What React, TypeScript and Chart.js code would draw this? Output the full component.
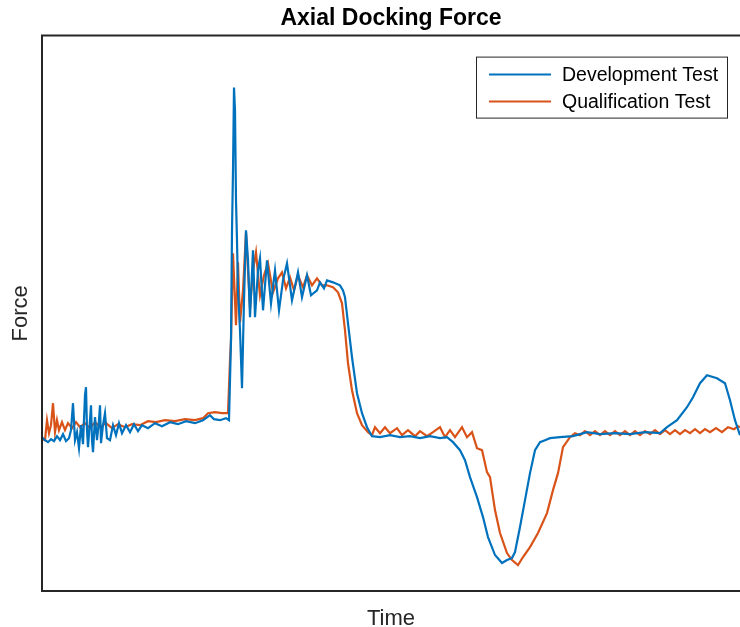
import { useEffect, useRef } from 'react';
import { Chart, registerables } from 'chart.js';
import type { Plugin } from 'chart.js';

Chart.register(...registerables);

// time in ms, force in N (arbitrary offsets, axes carry no ticks)
const devTime = [
  0, 3, 6, 9, 12, 15, 18, 21, 24, 27,
  29, 31, 33, 35, 37, 39, 41, 43, 44, 45,
  46, 48, 49, 50, 51, 53, 55, 57, 58, 59,
  61, 63, 65, 68, 71, 74, 77, 80, 84, 88,
  92, 96, 100, 106, 113, 120, 128, 136, 144, 153,
  161, 168, 172, 178, 184, 187, 189, 190, 191, 192,
  193, 194, 195, 196, 198, 200, 202, 204, 206, 208,
  211, 213, 216, 218, 221, 225, 229, 233, 237, 241,
  245, 250, 256, 260, 265, 269, 275, 278, 282, 285,
  291, 298, 301, 303, 306, 310, 315, 320, 325, 330,
  338, 348, 358, 368, 378, 388, 398, 405, 411, 418,
  423, 428, 435, 441, 446, 453, 460, 465, 470, 473,
  478, 483, 488, 493, 498, 503, 508, 518, 531, 545,
  558, 573, 588, 603, 618, 625, 635, 645, 651, 658,
  665, 675, 683, 688, 693, 698,
];
const devForce = [
  3, 0, -2, 1, -1, 4, 0, 6, -1, 2,
  10, 37, 0, 8, -8, 15, -4, 45, 53, 10,
  -7, 20, 35, 0, -12, 23, 0, 20, 35, -3,
  15, 27, 2, 0, 15, 5, 17, 7, 15, 8,
  16, 9, 15, 12, 17, 14, 18, 16, 19, 17,
  20, 25, 21, 20, 22, 20, 100, 210, 270, 353,
  330, 240, 200, 150, 110, 52, 140, 210, 180, 123,
  190, 123, 170, 182, 130, 180, 137, 170, 130, 160,
  177, 140, 168, 143, 165, 145, 150, 158, 152, 160,
  158, 155, 150, 143, 117, 83, 47, 27, 13, 4,
  3, 5, 3, 4, 2, 4, 2, 3, -2, -10,
  -20, -37, -57, -77, -97, -115, -123, -120, -118, -112,
  -87, -60, -33, -10, -2, 0, 2, 3, 4, 8,
  6, 7, 6, 8, 7, 13, 20, 33, 43, 57,
  65, 62, 57, 40, 20, 5,
];

const qualTime = [
  0, 3, 5, 7, 9, 11, 13, 15, 17, 20,
  23, 26, 30, 34, 38, 43, 48, 53, 58, 64,
  70, 76, 83, 90, 98, 106, 114, 123, 133, 143,
  153, 161, 166, 173, 180, 186, 188, 189, 191, 194,
  196, 198, 201, 204, 208, 211, 214, 218, 222, 226,
  231, 236, 240, 244, 248, 252, 256, 261, 265, 270,
  275, 280, 285, 291, 296, 300, 303, 306, 310, 315,
  320, 326, 330, 333, 338, 343, 348, 355, 360, 366,
  373, 378, 385, 391, 398, 403, 408, 413, 420, 425,
  430, 435, 440, 445, 448, 453, 458, 465, 470, 476,
  481, 488, 496, 505, 511, 516, 521, 528, 533, 538,
  543, 548, 553, 558, 563, 568, 573, 578, 583, 588,
  593, 598, 603, 608, 613, 618, 623, 628, 633, 638,
  643, 648, 653, 658, 663, 668, 674, 680, 686, 692,
  696, 698,
];
const qualForce = [
  1, 0, 20, 7, 15, 37, 8, 20, 10, 18,
  10, 17, 12, 18, 13, 17, 12, 18, 13, 17,
  12, 16, 13, 16, 15, 19, 18, 20, 19, 21,
  20, 22, 27, 28, 27, 27, 80, 100, 187, 115,
  178, 118, 150, 208, 132, 170, 188, 145, 165, 177,
  148, 162, 168, 152, 163, 150, 165, 153, 165, 155,
  162, 155, 155, 153, 148, 137, 110, 77, 50, 27,
  15, 8, 5, 13, 7, 13, 7, 12, 5, 10,
  4, 9, 4, 8, 13, 3, 10, 3, 13, 3,
  8, -8, -10, -32, -37, -70, -93, -113, -120, -125,
  -117, -107, -93, -73, -50, -33, -7, 3, 7, 5,
  9, 5, 9, 5, 9, 5, 9, 5, 9, 5,
  9, 5, 9, 6, 10, 6, 10, 6, 10, 6,
  10, 7, 11, 7, 11, 8, 12, 8, 13, 11,
  14, 13,
];

const seriesNames = ['Development Test', 'Qualification Test'];
const seriesColors = ['#0072BD', '#D95319'];

const FONT = "'Liberation Sans', Arial, Helvetica, sans-serif";
const INK = '#262626';

const axesBox: Plugin<'line'> = {
  id: 'axesBox',
  afterDatasetsDraw(chart) {
    const { ctx, chartArea: { left, top, right, bottom } } = chart;
    ctx.save();
    ctx.strokeStyle = INK;
    ctx.lineWidth = 2;
    ctx.beginPath();
    ctx.moveTo(right + 2, top);
    ctx.lineTo(left, top);
    ctx.lineTo(left, bottom);
    ctx.lineTo(right + 2, bottom);
    ctx.stroke();
    ctx.restore();
  },
};

// MATLAB style legend box in the upper right of the axes
const boxLegend: Plugin<'line'> = {
  id: 'boxLegend',
  afterDraw(chart) {
    const { ctx, chartArea } = chart;
    const x0 = chartArea.right - 264;
    const y0 = chartArea.top + 21;
    ctx.save();
    ctx.fillStyle = '#fff';
    ctx.fillRect(x0, y0, 251, 61);
    ctx.strokeStyle = INK;
    ctx.lineWidth = 1;
    ctx.strokeRect(x0 + 0.5, y0 + 0.5, 251, 61);
    ctx.font = `19.5px ${FONT}`;
    ctx.textBaseline = 'middle';
    seriesNames.forEach((name, i) => {
      const y = y0 + 18 + i * 27;
      ctx.strokeStyle = seriesColors[i];
      ctx.lineWidth = 2;
      ctx.beginPath();
      ctx.moveTo(x0 + 13, y);
      ctx.lineTo(x0 + 75, y);
      ctx.stroke();
      ctx.fillStyle = '#000';
      ctx.fillText(name, x0 + 86, y + 1);
    });
    ctx.restore();
  },
};

export default function App() {
  const canvasRef = useRef<HTMLCanvasElement>(null);

  useEffect(() => {
    if (!canvasRef.current) return;
    const ctx = canvasRef.current.getContext('2d')!;

    const chart = new Chart(ctx, {
      type: 'line',
      data: {
        datasets: [
          {
            label: seriesNames[0],
            data: devTime.map((t, i) => ({ x: t, y: devForce[i] })),
            borderColor: seriesColors[0],
          },
          {
            label: seriesNames[1],
            data: qualTime.map((t, i) => ({ x: t, y: qualForce[i] })),
            borderColor: seriesColors[1],
          },
        ],
      },
      options: {
        animation: false,
        responsive: true,
        maintainAspectRatio: false,
        layout: { padding: 0 },
        elements: {
          point: { radius: 0 },
          line: { borderWidth: 2.2, tension: 0 },
        },
        plugins: {
          legend: { display: false },
          tooltip: { enabled: false },
          title: {
            display: true,
            text: 'Axial Docking Force',
            fullSize: false,
            color: '#000',
            font: { family: FONT, size: 23, weight: 'bold' },
            padding: { top: 5, bottom: 3 },
          },
        },
        scales: {
          x: {
            type: 'linear',
            min: 0,
            max: 698,
            ticks: { display: false },
            grid: { display: false },
            border: { display: false },
            title: {
              display: true,
              text: 'Time',
              color: INK,
              font: { family: FONT, size: 22 },
              padding: { top: 0, bottom: -5 },
            },
            afterFit: (s) => { s.height = 36; },
          },
          y: {
            min: -151,
            max: 405,
            ticks: { display: false },
            grid: { display: false },
            border: { display: false },
            title: {
              display: true,
              text: 'Force',
              color: INK,
              font: { family: FONT, size: 22 },
              padding: { top: 8, bottom: 0 },
            },
            afterFit: (s) => { s.width = 42; },
          },
        },
      },
      plugins: [axesBox, boxLegend],
    });

    return () => chart.destroy();
  }, []);

  return (
    <div style={{ position: 'fixed', left: 0, top: 0, width: 740, height: 627, background: '#fff' }}>
      <canvas ref={canvasRef} />
    </div>
  );
}
